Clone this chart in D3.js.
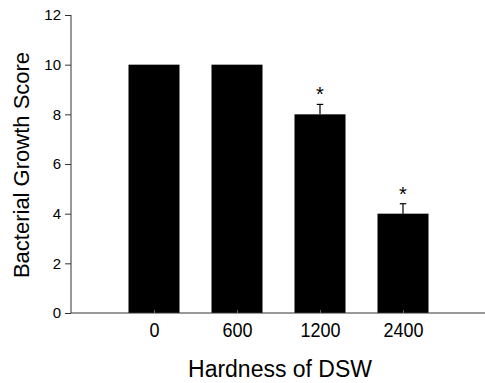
<!DOCTYPE html>
<html>
<head>
<meta charset="utf-8">
<script src="https://cdn.jsdelivr.net/npm/d3@7"></script>
<style>
  body { margin: 0; background: #fff; }
  svg { display: block; font-family: "Liberation Sans", Arial, sans-serif; }
</style>
</head>
<body>
<div id="chart"></div>
<script>
// Data.
var hardness = ["0", "600", "1200", "2400"];
var score = [10, 10, 8, 4];
var errorUp = [0, 0, 0.4, 0.4];
var significant = [false, false, true, true];
var yTicks = [0, 2, 4, 6, 8, 10, 12];

var width = 485,
	height = 383,
	plot = { left: 71, right: 485, top: 15, bottom: 313 },
	barWidth = 51;

var svg = d3.select("#chart").append("svg")
	.attr("width", width)
	.attr("height", height);

var x = d3.scalePoint()
	.domain(hardness)
	.range([plot.left, plot.left + 83 * 5])
	.padding(1);

var y = d3.scaleLinear()
	.domain([0, 12])
	.range([plot.bottom, plot.top]);

// Bars.
svg.selectAll(".bar")
	.data(hardness)
	.enter().append("rect")
	.attr("class", "bar")
	.attr("x", function (d) { return x(d) - barWidth / 2; })
	.attr("y", function (d, i) { return y(score[i]); })
	.attr("width", barWidth)
	.attr("height", function (d, i) { return y(0) - y(score[i]); })
	.attr("fill", "#000");

// Error bars (upper only).
var err = svg.selectAll(".err")
	.data(hardness.filter(function (d, i) { return errorUp[i] > 0; }))
	.enter().append("g")
	.attr("class", "err")
	.attr("stroke", "#000")
	.attr("stroke-width", 1.2);

err.append("line")
	.attr("x1", function (d) { return x(d); })
	.attr("x2", function (d) { return x(d); })
	.attr("y1", function (d) { var i = hardness.indexOf(d); return y(score[i]); })
	.attr("y2", function (d) { var i = hardness.indexOf(d); return y(score[i] + errorUp[i]); });

err.append("line")
	.attr("x1", function (d) { return x(d) - 3.2; })
	.attr("x2", function (d) { return x(d) + 3.2; })
	.attr("y1", function (d) { var i = hardness.indexOf(d); return y(score[i] + errorUp[i]); })
	.attr("y2", function (d) { var i = hardness.indexOf(d); return y(score[i] + errorUp[i]); });

// Significance marks.
svg.selectAll(".star")
	.data(hardness.filter(function (d, i) { return significant[i]; }))
	.enter().append("text")
	.attr("class", "star")
	.attr("x", function (d) { return x(d); })
	.attr("y", function (d) { var i = hardness.indexOf(d); return y(score[i] + errorUp[i]) - 3; })
	.attr("text-anchor", "middle")
	.style("font-size", "20px")
	.text("*");

// Y axis.
var yAxis = svg.append("g")
	.attr("transform", "translate(" + plot.left + ",0)")
	.call(d3.axisLeft(y).tickValues(yTicks).tickSize(6).tickPadding(4));
yAxis.selectAll("text").style("font-size", "15px").attr("fill", "#000");
yAxis.selectAll("line, path").attr("stroke", "#333");
yAxis.select(".domain").attr("d", "M0," + y(12) + "V" + y(0));

// X axis: baseline with small inward ticks.
var xAxis = svg.append("g")
	.attr("transform", "translate(0," + plot.bottom + ")")
	.call(d3.axisBottom(x).tickSize(-3));
xAxis.select(".domain").attr("d", "M" + plot.left + ",0H" + plot.right).attr("stroke", "#333");
xAxis.selectAll(".tick line").attr("stroke", "#666");
// the source figure's labels are drawn a little taller than wide
xAxis.selectAll("text")
	.attr("y", null)
	.attr("dy", null)
	.attr("transform", "translate(0,24) scale(1,1.15)")
	.style("font-size", "18px")
	.attr("fill", "#000");

// Axis titles.
svg.append("text")
	.attr("transform", "translate(280,377) scale(1,1.08)")
	.attr("text-anchor", "middle")
	.style("font-size", "23px")
	.text("Hardness of DSW");

svg.append("text")
	.attr("transform", "translate(29,165) rotate(-90)")
	.attr("text-anchor", "middle")
	.style("font-size", "22px")
	.text("Bacterial Growth Score");
</script>
</body>
</html>
